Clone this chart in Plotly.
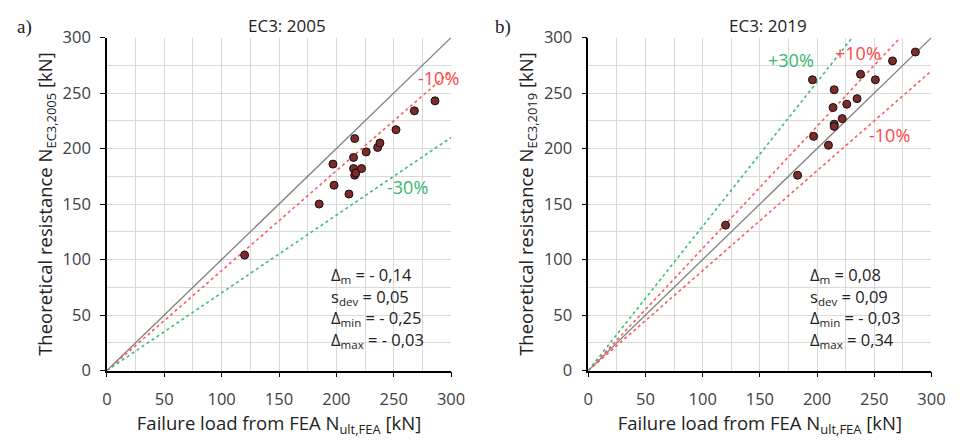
import plotly.graph_objects as go

# Left chart (EC3: 2005) data
fea_a = [120, 185, 197, 198, 211, 215, 215, 216, 216, 217, 222, 226, 236, 238, 252, 268, 286]
ec3_2005 = [104, 150, 186, 167, 159, 182, 192, 176, 209, 178, 182, 197, 201, 205, 217, 234, 243]

# Right chart (EC3: 2019) data
fea_b = [120, 183, 196, 197, 210, 214, 215, 215, 215, 222, 226, 235, 238, 251, 266, 286]
ec3_2019 = [131, 176, 262, 211, 203, 237, 222, 220, 253, 227, 240, 245, 267, 262, 279, 287]

FONT = "Open Sans"
RED = "#ff4545"
GREEN = "#35b870"
LRED = "#ff5a5a"
LGREEN = "#3dbb7a"

fig = go.Figure()

def add_line(xaxis, yaxis, slope, color, dash, width):
    xmax = min(300, 300 / slope)
    fig.add_trace(go.Scatter(x=[0, xmax], y=[0, slope * xmax], mode="lines",
                             line=dict(color=color, dash=dash, width=width),
                             xaxis=xaxis, yaxis=yaxis, showlegend=False, hoverinfo="skip"))

# left
add_line("x", "y", 1.0, "#7f7f7f", "solid", 1.3)
add_line("x", "y", 0.9, LRED, "dot", 1.6)
add_line("x", "y", 0.7, LGREEN, "dot", 1.6)
fig.add_trace(go.Scatter(x=fea_a, y=ec3_2005, mode="markers",
                         marker=dict(size=8, color="#7a2b2b", line=dict(color="#1a0a0a", width=1)),
                         xaxis="x", yaxis="y", showlegend=False))
# right
add_line("x2", "y2", 1.0, "#7f7f7f", "solid", 1.3)
add_line("x2", "y2", 1.1, LRED, "dot", 1.6)
add_line("x2", "y2", 0.9, LRED, "dot", 1.6)
add_line("x2", "y2", 1.3, LGREEN, "dot", 1.6)
fig.add_trace(go.Scatter(x=fea_b, y=ec3_2019, mode="markers",
                         marker=dict(size=8, color="#7a2b2b", line=dict(color="#1a0a0a", width=1)),
                         xaxis="x2", yaxis="y2", showlegend=False))

def axis(domain, anchor, standoff, title_standoff):
    return dict(domain=domain, anchor=anchor, range=[0, 300], dtick=50, tick0=0,
                showgrid=True, gridcolor="#d9d9d9", gridwidth=1,
                minor=dict(dtick=25, showgrid=True, gridcolor="#d9d9d9", gridwidth=1),
                showline=True, linecolor="black", linewidth=1.5, zeroline=False,
                ticks="outside", ticklen=5, tickcolor="black",
                ticklabelstandoff=standoff,
                tickfont=dict(family=FONT, size=16.5, color="#404040"),
                title=dict(font=dict(family=FONT, size=18.5, color="#222"), standoff=title_standoff),
                fixedrange=True)

fig.update_layout(
    width=966, height=446,
    margin=dict(l=0, r=0, t=0, b=0),
    plot_bgcolor="white", paper_bgcolor="white",
    xaxis=axis([104/966, 455/966], "y", 8, 6),
    yaxis=axis([68/446, 419/446], "x", 6, 5),
    xaxis2=axis([595/966, 945/966], "y2", 8, 6),
    yaxis2=axis([68/446, 419/446], "x2", 6, 5),
)
fig.layout.xaxis.title.text = "Failure load from FEA N<sub>ult,FEA</sub> [kN]"
fig.layout.xaxis2.title.text = "Failure load from FEA N<sub>ult,FEA</sub> [kN]"
fig.layout.yaxis.title.text = "Theoretical resistance N<sub>EC3,2005</sub> [kN]"
fig.layout.yaxis2.title.text = "Theoretical resistance N<sub>EC3,2019</sub> [kN]"

ann = []
def txt(x, y, xref, yref, text, size, color="#222", family=FONT, xanchor="center"):
    ann.append(dict(x=x, y=y, xref=xref, yref=yref, text=text, showarrow=False,
                    font=dict(family=family, size=size, color=color),
                    xanchor=xanchor, yanchor="middle"))

txt(288/966, 1 - 14/446, "paper", "paper", "EC3: 2005", 17)
txt(778/966, 1 - 14/446, "paper", "paper", "EC3: 2019", 17)
txt(20/966, 1 - 16/446, "paper", "paper", "a)", 19, family="Liberation Serif")
txt(508/966, 1 - 16/446, "paper", "paper", "b)", 19, family="Liberation Serif")

txt(289, 264, "x", "y", "-10%", 18, RED)
txt(262, 165, "x", "y", "-30%", 18, GREEN)
txt(177, 280, "x2", "y2", "+30%", 18, GREEN)
txt(236, 286, "x2", "y2", "+10%", 18, RED)
txt(263, 212, "x2", "y2", "-10%", 18, RED)

stats_a = ["Δ<sub>m</sub> = - 0,14", "s<sub>dev</sub> = 0,05", "Δ<sub>min</sub> = - 0,25", "Δ<sub>max</sub> = - 0,03"]
stats_b = ["Δ<sub>m</sub> = 0,08", "s<sub>dev</sub> = 0,09", "Δ<sub>min</sub> = - 0,03", "Δ<sub>max</sub> = 0,34"]
ys = [86, 66.5, 47, 27.5]
for s, yv in zip(stats_a, ys):
    txt(194, yv, "x", "y", s, 16.5, xanchor="left")
for s, yv in zip(stats_b, ys):
    txt(192, yv, "x2", "y2", s, 16.5, xanchor="left")

fig.update_layout(annotations=ann)
fig.write_html("out.html")
